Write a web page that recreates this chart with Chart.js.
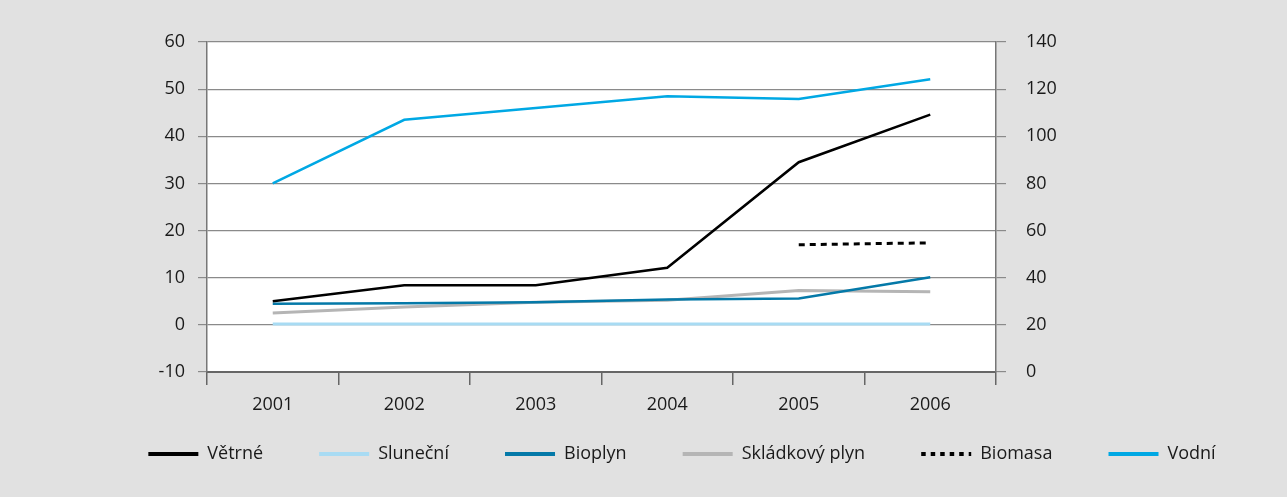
<!DOCTYPE html>
<html>
<head>
<meta charset="utf-8">
<script src="https://cdn.jsdelivr.net/npm/chart.js@4/dist/chart.umd.min.js"></script>
<style>
    html, body { margin: 0; padding: 0; background: #e1e1e1; }
    #wrap { width: 1287px; height: 497px; }
</style>
</head>
<body>
<div id="wrap"><canvas id="chart" width="1287" height="497"></canvas></div>
<script>
// roky na ose x
const years = ['2001', '2002', '2003', '2004', '2005', '2006'];

// levá osa
const vetrne = [5.0, 8.4, 8.4, 12.1, 34.5, 44.6];
const slunecni = [0.2, 0.2, 0.2, 0.2, 0.2, 0.2];
const bioplyn = [4.5, 4.6, 4.8, 5.4, 5.6, 10.1];
const skladkovy = [2.5, 3.8, 4.8, 5.2, 7.3, 7.0];
const biomasa = [null, null, null, null, 17.0, 17.4];

// pravá osa
const vodni = [80, 107, 112, 117, 115.8, 124.2];

const leftTicks = [-10, 0, 10, 20, 30, 40, 50, 60];
const rightTicks = [0, 20, 40, 60, 80, 100, 120, 140];

const font = { family: "'Open Sans', 'DejaVu Sans', sans-serif", size: 18 };
const textColor = '#1a1a1a';

// bílá plocha grafu
const plotBackground = {
    id: 'plotBackground',
    beforeDraw(chart) {
        const a = chart.chartArea;
        const ctx = chart.ctx;
        ctx.save();
        ctx.fillStyle = '#ffffff';
        ctx.fillRect(a.left, a.top, a.right - a.left, a.bottom - a.top);
        ctx.restore();
    }
};

function line(label, data, color, width, axis, dash) {
    return {
        label: label,
        data: data,
        yAxisID: axis,
        borderColor: color,
        backgroundColor: color,
        borderWidth: width,
        borderDash: dash || [],
        pointRadius: 0,
        pointHoverRadius: 0,
        tension: 0,
        spanGaps: false
    };
}

new Chart(document.getElementById('chart'), {
    type: 'line',
    data: {
        labels: years,
        datasets: [
            line('Větrné', vetrne, '#000000', 2.5, 'y'),
            line('Sluneční', slunecni, '#a8dbf3', 3, 'y'),
            line('Bioplyn', bioplyn, '#0479a8', 2.5, 'y'),
            line('Skládkový plyn', skladkovy, '#b5b5b5', 3, 'y'),
            line('Biomasa', biomasa, '#000000', 3, 'y', [6, 5]),
            line('Vodní', vodni, '#00a8e4', 2.5, 'y1')
        ]
    },
    options: {
        responsive: false,
        animation: false,
        layout: { padding: { top: 42, left: 100, right: 23, bottom: 24 } },
        plugins: {
            legend: {
                position: 'bottom',
                labels: {
                    usePointStyle: true,
                    pointStyle: 'line',
                    pointStyleWidth: 50,
                    padding: 28,
                    color: textColor,
                    font: font,
                    generateLabels(chart) {
                        const items = Chart.defaults.plugins.legend.labels.generateLabels(chart);
                        items.forEach((it, i) => {
                            const ds = chart.data.datasets[it.datasetIndex];
                            it.lineWidth = 4;
                            it.lineDash = ds.borderDash.length ? [4.5, 5] : [];
                            // větší mezera mezi položkami, výška legendy zůstane malá
                            if (i < items.length - 1) it.text += '\u00a0\u00a0\u00a0\u00a0\u00a0\u00a0';
                        });
                        return items;
                    }
                }
            },
            tooltip: { enabled: false }
        },
        scales: {
            x: {
                type: 'category',
                offset: true,
                afterFit(s) { s.height = 45; },
                grid: {
                    offset: true,
                    drawOnChartArea: false,
                    tickLength: 13,
                    color: '#666666',
                    lineWidth: 1.5
                },
                border: { color: '#666666', width: 2 },
                ticks: { color: textColor, font: font, padding: 9 }
            },
            y: {
                position: 'left',
                min: -10,
                max: 60,
                afterFit(s) { s.width = 107; },
                afterBuildTicks(s) { s.ticks = leftTicks.map(v => ({ value: v })); },
                grid: { color: '#8a8a8a', lineWidth: 1.2, tickLength: 9 },
                border: { color: '#777777', width: 1.5 },
                ticks: { color: textColor, font: font, padding: 13 }
            },
            y1: {
                position: 'right',
                min: 0,
                max: 140,
                afterFit(s) { s.width = 268; },
                afterBuildTicks(s) { s.ticks = rightTicks.map(v => ({ value: v })); },
                grid: { drawOnChartArea: false, color: '#8a8a8a', lineWidth: 1.2, tickLength: 10 },
                border: { color: '#777777', width: 1.5 },
                ticks: { color: textColor, font: font, padding: 20 }
            }
        }
    },
    plugins: [plotBackground]
});
</script>
</body>
</html>
